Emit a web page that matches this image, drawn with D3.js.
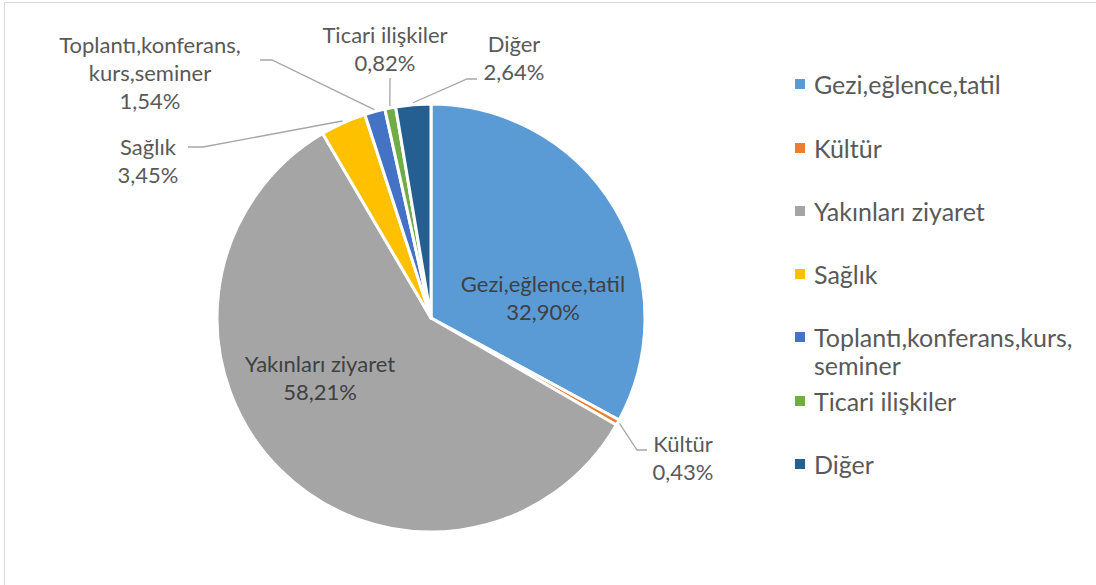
<!DOCTYPE html>
<html>
<head>
<meta charset="utf-8">
<script src="https://cdn.jsdelivr.net/npm/d3@7"></script>
<style>
  body { margin: 0; background: #fff; }
  text { font-family: Lato, "Open Sans", sans-serif; fill: #595959; }
</style>
</head>
<body>
<div id="chart"></div>
<script>
var svgWidth = 1096;
var svgHeight = 585;

// data
var categories = ["Gezi,eğlence,tatil", "Kültür", "Yakınları ziyaret", "Sağlık",
  "Toplantı,konferans,kurs,seminer", "Ticari ilişkiler", "Diğer"];
var values = [32.90, 0.43, 58.21, 3.45, 1.54, 0.82, 2.64];
var colors = ["#5B9BD5", "#ED7D31", "#A5A5A5", "#FFC000", "#4472C4", "#70AD47", "#255E91"];
// how the names wrap in the data labels and in the legend
var labelLines = [["Gezi,eğlence,tatil"], ["Kültür"], ["Yakınları ziyaret"], ["Sağlık"],
  ["Toplantı,konferans,", "kurs,seminer"], ["Ticari ilişkiler"], ["Diğer"]];
var legendLines = [["Gezi,eğlence,tatil"], ["Kültür"], ["Yakınları ziyaret"], ["Sağlık"],
  ["Toplantı,konferans,kurs,", "seminer"], ["Ticari ilişkiler"], ["Diğer"]];

var cx = 431, cy = 318, radius = 214;

var svg = d3.select("#chart").append("svg")
  .attr("width", svgWidth)
  .attr("height", svgHeight);

// chart area border
svg.append("rect")
  .attr("x", 4.5).attr("y", 2.5)
  .attr("width", svgWidth + 10).attr("height", svgHeight + 10)
  .attr("fill", "none").attr("stroke", "#d9d9d9");

var data = categories.map(function(c, i) {
  return { name: c, value: values[i], color: colors[i], lines: labelLines[i] };
});

var pie = d3.pie().sort(null).value(function(d) { return d.value; });
var arcs = pie(data);
var arc = d3.arc().innerRadius(0).outerRadius(radius);

var g = svg.append("g").attr("transform", "translate(" + cx + "," + cy + ")");

g.selectAll("path.slice")
  .data(arcs)
  .enter().append("path")
  .attr("class", "slice")
  .attr("d", arc)
  .attr("fill", function(d) { return d.data.color; })
  .attr("stroke", "#fff")
  .attr("stroke-width", 3)
  .attr("stroke-linejoin", "round");

function fmt(v) { return v.toFixed(2).replace(".", ",") + "%"; }

// label layout: text centre (first line) plus leader elbow for outside ones
var labelPos = {
  0: { tx: 543, ty: 283, color: "#404040" },
  1: { tx: 683, ty: 443, elbow: [[637, 450], [647, 450]] },
  2: { tx: 320, ty: 363, color: "#404040" },
  3: { tx: 148, ty: 146, elbow: [[203, 147], [188, 147]] },
  4: { tx: 150, ty: 44, elbow: [[272, 60], [260, 60]] },
  5: { tx: 385, ty: 34, elbow: [[390, 78]] },
  6: { tx: 514, ty: 43, elbow: [[467, 79], [477, 79]] }
};

var lineH = 28;
var labelSize = 22;

arcs.forEach(function(a, i) {
  var o = labelPos[i];
  if (o.elbow) {
    // leader starts on the rim at the slice's middle angle
    var mid = (a.startAngle + a.endAngle) / 2;
    var sx = cx + Math.sin(mid) * (radius + 2);
    var sy = cy - Math.cos(mid) * (radius + 2);
    svg.append("path")
      .attr("d", d3.line()([[sx, sy]].concat(o.elbow)))
      .attr("fill", "none")
      .attr("stroke", "#a6a6a6")
      .attr("stroke-width", 1.3);
  }
  var t = svg.append("text")
    .attr("text-anchor", "middle")
    .attr("font-size", labelSize);
  if (o.color) t.style("fill", o.color);
  a.data.lines.concat([fmt(a.data.value)]).forEach(function(l, k) {
    t.append("tspan").attr("x", o.tx).attr("y", o.ty + k * lineH)
      .attr("dominant-baseline", "central").text(l);
  });
});

// legend
var legY = [84, 148, 211, 274, 337, 401, 464];
var leg = svg.append("g");
data.forEach(function(d, i) {
  leg.append("rect")
    .attr("x", 795).attr("y", legY[i] - 5)
    .attr("width", 10).attr("height", 10)
    .attr("fill", d.color);
  var t = leg.append("text").attr("font-size", 25);
  legendLines[i].forEach(function(l, k) {
    t.append("tspan").attr("x", 814).attr("y", legY[i] + k * 28)
      .attr("dominant-baseline", "central").text(l);
  });
});
</script>
</body>
</html>
